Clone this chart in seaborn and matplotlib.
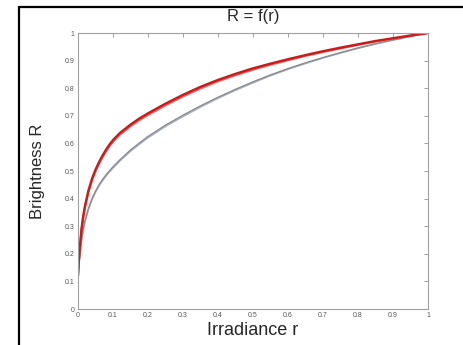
import numpy as np
import pandas as pd
import matplotlib
matplotlib.use("Agg")
import matplotlib.pyplot as plt
import seaborn as sns
from matplotlib.lines import Line2D

# Data
irradiance = [0.0, 0.002, 0.005, 0.01, 0.015, 0.02, 0.03, 0.04, 0.05, 0.06, 0.07, 0.08,
              0.09, 0.1, 0.12, 0.15, 0.175, 0.2, 0.25, 0.3, 0.35, 0.4, 0.45, 0.5,
              0.55, 0.6, 0.65, 0.7, 0.75, 0.8, 0.85, 0.9, 0.95, 1.0]
red_a = [0.12, 0.17, 0.22, 0.29, 0.337, 0.374, 0.43, 0.472, 0.505, 0.532, 0.556, 0.577,
         0.596, 0.612, 0.638, 0.668, 0.69, 0.709, 0.744, 0.776, 0.805, 0.830, 0.852, 0.872,
         0.889, 0.905, 0.92, 0.934, 0.947, 0.959, 0.971, 0.981, 0.991, 1.0]
red_b = [0.12, 0.165, 0.214, 0.284, 0.331, 0.368, 0.424, 0.466, 0.499, 0.526, 0.550, 0.571,
         0.590, 0.606, 0.632, 0.662, 0.684, 0.703, 0.738, 0.770, 0.799, 0.825, 0.847, 0.867,
         0.885, 0.901, 0.917, 0.931, 0.944, 0.957, 0.969, 0.980, 0.990, 1.0]
gray_a = [0.12, 0.15, 0.19, 0.25, 0.29, 0.32, 0.365, 0.40, 0.427, 0.45, 0.469, 0.486,
          0.501, 0.515, 0.541, 0.576, 0.601, 0.625, 0.666, 0.702, 0.736, 0.767, 0.796, 0.823,
          0.848, 0.871, 0.892, 0.911, 0.929, 0.946, 0.961, 0.975, 0.988, 1.0]
gray_b = [0.12, 0.147, 0.186, 0.245, 0.285, 0.315, 0.36, 0.395, 0.422, 0.445, 0.464, 0.481,
          0.496, 0.510, 0.536, 0.571, 0.596, 0.620, 0.661, 0.697, 0.731, 0.763, 0.792, 0.819,
          0.845, 0.868, 0.889, 0.909, 0.927, 0.944, 0.960, 0.974, 0.987, 1.0]
tick_vals = [0, 0.1, 0.2, 0.3, 0.4, 0.5, 0.6, 0.7, 0.8, 0.9, 1]
tick_labels = ["0", "0.1", "0.2", "0.3", "0.4", "0.5", "0.6", "0.7", "0.8", "0.9", "1"]

sns.set_style("white")
plt.rcParams['font.family'] = ['Liberation Sans', 'DejaVu Sans']

fig = plt.figure(figsize=(4.63, 3.45), dpi=100)
ax = fig.add_axes([78/463, 1-309/345, 350/463, 276/345])

df = pd.DataFrame({"r": irradiance, "ra": red_a, "rb": red_b, "ga": gray_a, "gb": gray_b})
sns.lineplot(data=df, x="r", y="gb", ax=ax, color="#aab4c8", lw=1.0)
sns.lineplot(data=df, x="r", y="ga", ax=ax, color="#8a8a8a", lw=1.0)
sns.lineplot(data=df, x="r", y="rb", ax=ax, color="#e26464", lw=1.5)
sns.lineplot(data=df, x="r", y="ra", ax=ax, color="#cc1a1a", lw=1.7)

ax.set_xlim(0, 1)
ax.set_ylim(0, 1)
ax.set_xticks(tick_vals)
ax.set_xticklabels(tick_labels)
ax.set_yticks(tick_vals)
ax.set_yticklabels(tick_labels)
ax.tick_params(axis="both", direction="in", length=3, width=0.6, color="#909090",
               labelsize=5, labelcolor="#555555", top=True, right=True, pad=2.5)
for s in ax.spines.values():
    s.set_visible(True)
    s.set_color("#a0a0a0")
    s.set_linewidth(0.8)

ax.set_xlabel("Irradiance r", fontsize=13, labelpad=2)
ax.set_ylabel("Brightness R", fontsize=12, labelpad=14)
ax.set_title("R = f(r)", fontsize=12, pad=9)

# figure frame (left and top black border)
fig.add_artist(Line2D([18.5/463, 18.5/463], [0, 1-7/345], color="black", lw=1.6,
                      transform=fig.transFigure))
fig.add_artist(Line2D([18.5/463, 1], [1-7/345, 1-7/345], color="black", lw=1.6,
                      transform=fig.transFigure))

fig.savefig("out.png", dpi=100)
